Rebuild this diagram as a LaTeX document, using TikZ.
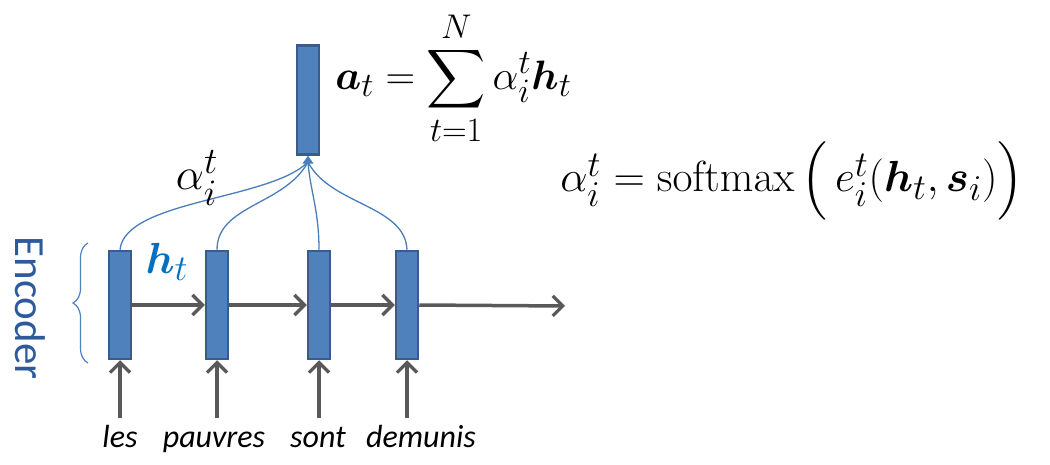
\documentclass[tikz,border=0pt]{standalone}
\usepackage{amsmath}
\usepackage{bm}
\usepackage[no-math]{fontspec}
\setmainfont{Carlito}
\usetikzlibrary{arrows.meta,decorations.pathreplacing}
\definecolor{barfill}{HTML}{4F81BD}
\definecolor{barborder}{HTML}{385D8A}
\definecolor{arrowgray}{HTML}{595959}
\definecolor{curveblue}{HTML}{4A7EBB}
\definecolor{htblue}{HTML}{0070C0}
\definecolor{encblue}{HTML}{2E5A9C}
\tikzset{
  bar/.style={draw=barborder, fill=barfill, line width=2.5pt, minimum width=22pt, minimum height=108pt, inner sep=0pt},
  flow/.style={draw=arrowgray, line width=3.5pt, -{Straight Barb[length=10pt,width=20pt,line width=3.2pt]}},
  attn/.style={draw=curveblue, line width=1.3pt},
  word/.style={font=\fontsize{32}{36}\selectfont\itshape, anchor=base, text=black},
  mathbig/.style={font=\fontsize{24.88}{30}\selectfont, text=black, inner sep=0pt}
}
\begin{document}
\begin{tikzpicture}[x=1pt,y=-1pt]
\useasboundingbox (0,0) rectangle (1050,465);
% encoder bars
\node[bar] (b1) at (120,305) {};
\node[bar] (b2) at (217,305) {};
\node[bar] (b3) at (319,305) {};
\node[bar] (b4) at (407,305) {};
% top bar
\node[bar, minimum height=109pt] (a) at (308,100) {};
% recurrent arrows
\coordinate (out) at (565,306);
\draw[flow] (b1.east) -- (b2.west);
\draw[flow] (b2.east) -- (b3.west);
\draw[flow] (b3.east) -- (b4.west);
\draw[flow] (b4.east) -- (out);
% inputs
\coordinate (i1) at (120,418);
\coordinate (i2) at (217,418);
\coordinate (i3) at (319,418);
\coordinate (i4) at (407,418);
\draw[flow] (i1) -- (b1.south);
\draw[flow] (i2) -- (b2.south);
\draw[flow] (i3) -- (b3.south);
\draw[flow] (i4) -- (b4.south);
\node[word] (w1) at (120,447) {les};
\node[word] (w2) at (214,447) {pauvres};
\node[word] (w3) at (318,447) {sont};
\node[word] (w4) at (421,447) {demunis};
% attention curves
\coordinate (apex) at (308,162);
\draw[attn] (b1.north) .. controls (125,200) and (270,200) .. (apex);
\draw[attn] (b2.north) .. controls (217,205) and (285,205) .. (apex);
\draw[attn] (b4.north) .. controls (405,205) and (330,205) .. (apex);
\draw[attn] (b3.north) .. controls (319,210) and (310,190) .. (apex);
\draw[attn, -{Triangle[length=8pt,width=11pt]}] (apex) -- (a.south);
% labels
\node[mathbig, scale=1.8] (alpha) at (197,178) {$\alpha_i^t$};
\node[mathbig, text=htblue, scale=1.75] (ht) at (167,262) {$\bm{h}_t$};
\node[mathbig, scale=1.65, anchor=base west] (f1) at (335,90) {$\displaystyle \bm{a}_t = \sum_{t=1}^{N} \alpha_i^t \bm{h}_t$};
\node[mathbig, scale=1.75, anchor=base west] (f2) at (560,192) {$\alpha_i^t = \mathrm{softmax}\,\Bigl(\, e_i^t(\bm{h}_t, \bm{s}_i)\Bigr)$};
% encoder brace and label
\draw[draw=barfill, line width=1.2pt, decorate, decoration={brace, amplitude=15pt}] (88,363) -- (88,243);
\node[font=\fontsize{43}{48}\selectfont, text=encblue, rotate=-90] (enc) at (30,308) {Encoder};
\end{tikzpicture}
\end{document}
